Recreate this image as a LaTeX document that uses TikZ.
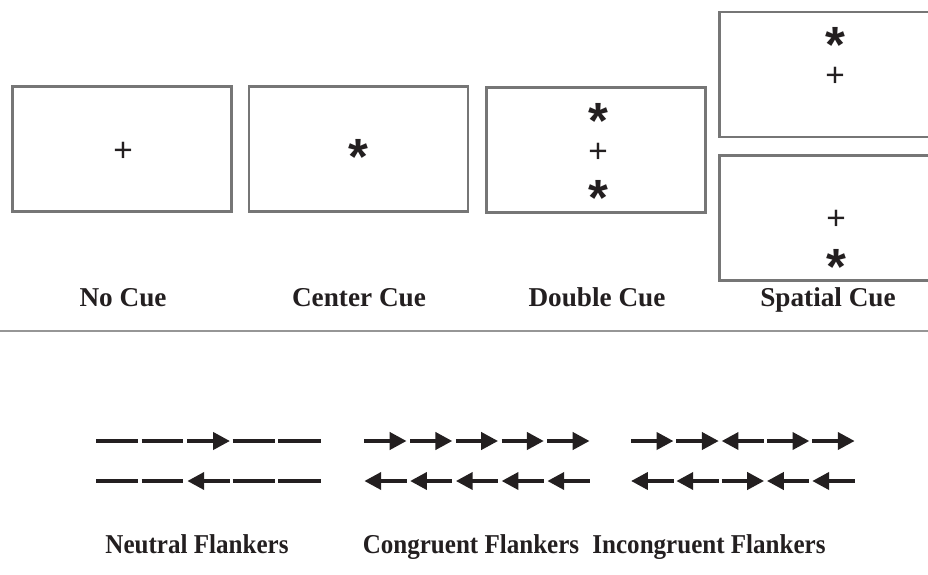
\documentclass[tikz,border=0pt]{standalone}
\usepackage{fontspec}
\setmainfont{Liberation Serif}
\newfontfamily\markfont{Liberation Sans}
\newfontfamily\capfont[FakeStretch=0.92]{Liberation Serif}
\usetikzlibrary{arrows.meta}
\definecolor{BoxGray}{RGB}{118,118,118}
\definecolor{RuleGray}{RGB}{150,150,150}
\definecolor{InkBlack}{RGB}{35,31,32}

\begin{document}
\begin{tikzpicture}[
  x=0.02cm, y=-0.02cm,
  >={Triangle[length=9.6pt,width=9.6pt]},
  screen/.style={draw=BoxGray, line width=1.4pt, minimum width=219*0.02cm,
                 minimum height=125*0.02cm, inner sep=0pt},
  fixmark/.style={font=\markfont\fontsize{19}{19}\selectfont, inner sep=0pt, text=InkBlack},
  cuemark/.style={font=\markfont\bfseries\fontsize{29}{29}\selectfont, inner sep=0pt,
                  text=InkBlack, yshift=-3pt},
  caption/.style={font=\bfseries\fontsize{15.5}{15.5}\selectfont, text=InkBlack,
                  anchor=base, inner sep=0pt},
  lowcaption/.style={caption, font=\capfont\bfseries\fontsize{15.5}{15.5}\selectfont},
  flank/.style={line width=2.3pt, draw=InkBlack},
  tipR/.style={->}, tipL/.style={<-}, tipN/.style={}
]
  \useasboundingbox (0,0) rectangle (928,574);
  \clip (0,0) rectangle (928,574);

  % Cue screens
  \node[screen] (nocue)   at (122,149)   {};
  \node[screen] (center)  at (358.5,149) {};
  \node[screen] (double)  at (596,150)   {};
  \node[screen] (spatUp)  at (829,74.5)  {};
  \node[screen] (spatLow) at (829,218)   {};

  % Fixation crosses and cue stars
  \node[fixmark] (fixA) at (123,152) {+};
  \node[cuemark] (cueB) at (358,152) {*};
  \node[cuemark] (cueC1) at (598,116) {*};
  \node[fixmark] (fixC) at (598,153) {+};
  \node[cuemark] (cueC2) at (598,193) {*};
  \node[cuemark] (cueD1) at (835,40)  {*};
  \node[fixmark] (fixD1) at (835,77)  {+};
  \node[fixmark] (fixD2) at (836,220) {+};
  \node[cuemark] (cueD2) at (836,262) {*};

  \node[caption] (capA) at (123,306) {No Cue};
  \node[caption] (capB) at (359,306) {Center Cue};
  \node[caption] (capC) at (597,306) {Double Cue};
  \node[caption] (capD) at (828,306) {Spatial Cue};

  % Separator
  \coordinate (sepL) at (0,331);
  \coordinate (sepR) at (928,331);
  \draw[RuleGray, line width=1.1pt] (sepL) -- (sepR);

  % Neutral flankers
  \foreach \xa/\xb/\d [count=\k] in {96/138.3/N, 141.7/183.3/N, 187.3/230/R, 232.7/275/N, 278.3/320.7/N}{
    \coordinate (nt\k a) at (\xa,441);
    \coordinate (nt\k b) at (\xb,441);
    \draw[flank, tip\d] (nt\k a) -- (nt\k b);
  }
  \foreach \xa/\xb/\d [count=\k] in {96/138.3/N, 141.7/183.3/N, 187.3/230/L, 232.7/275/N, 278.3/320.7/N}{
    \coordinate (nb\k a) at (\xa,481);
    \coordinate (nb\k b) at (\xb,481);
    \draw[flank, tip\d] (nb\k a) -- (nb\k b);
  }

  % Congruent flankers
  \foreach \d [count=\k from 0] in {R,R,R,R,R}{
    \coordinate (ct\k a) at ({364.3+45.75*\k},441);
    \coordinate (ct\k b) at ({406.6+45.75*\k},441);
    \draw[flank, tip\d] (ct\k a) -- (ct\k b);
  }
  \foreach \d [count=\k from 0] in {L,L,L,L,L}{
    \coordinate (cb\k a) at ({364.3+45.75*\k},481);
    \coordinate (cb\k b) at ({406.6+45.75*\k},481);
    \draw[flank, tip\d] (cb\k a) -- (cb\k b);
  }

  % Incongruent flankers
  \foreach \d [count=\k from 0] in {R,R,L,R,R}{
    \coordinate (it\k a) at ({631+45.3*\k},441);
    \coordinate (it\k b) at ({673.5+45.3*\k},441);
    \draw[flank, tip\d] (it\k a) -- (it\k b);
  }
  \foreach \d [count=\k from 0] in {L,L,R,L,L}{
    \coordinate (ib\k a) at ({631+45.3*\k},481);
    \coordinate (ib\k b) at ({673.5+45.3*\k},481);
    \draw[flank, tip\d] (ib\k a) -- (ib\k b);
  }

  \node[lowcaption] (capN) at (197,553) {Neutral Flankers};
  \node[lowcaption] (capG) at (471,553) {Congruent Flankers};
  \node[lowcaption] (capI) at (709,553) {Incongruent Flankers};
\end{tikzpicture}
\end{document}
